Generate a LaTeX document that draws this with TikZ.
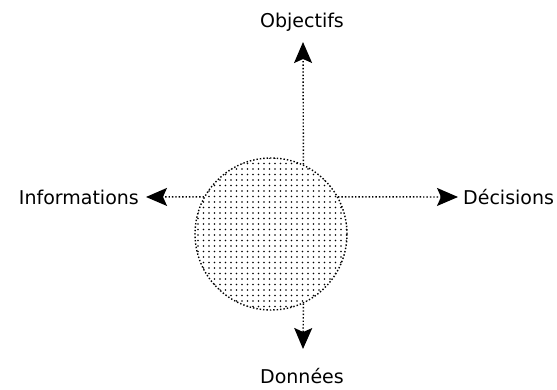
\documentclass[tikz,border=0pt]{standalone}
\usepackage{fontspec}
\setmainfont{DejaVu Sans}
\usetikzlibrary{arrows.meta,patterns.meta}
\tikzset{
    lbl/.style={font=\fontsize{19}{23}\selectfont, inner sep=0pt, text height=14pt, text depth=0pt},
    dots/.style={line width=1.4pt, dash pattern=on 1.4pt off 2pt},
    flow/.style={dots, -{Stealth[length=21pt,width=18pt,inset=4pt]}},
}
\begin{document}
\begin{tikzpicture}[x=1pt,y=-1pt]
    \useasboundingbox (0,0) rectangle (557,389);

    \node[circle, minimum size=152pt, inner sep=0pt, draw, dots,
          pattern={Dots[distance=5.5pt,radius=0.8pt]}] (blob) at (271,234) {};

    \coordinate (objtip) at (303,42);
    \coordinate (dectip) at (458,197);
    \coordinate (inftip) at (146,197);
    \coordinate (dontip) at (303,349);

    \node[lbl] (obj) at (302,20) {Objectifs};
    \node[lbl, anchor=west] (dec) at (463,197) {Décisions};
    \node[lbl, anchor=east] (inf) at (139,197) {Informations};
    \node[lbl] (don) at (302,376) {Données};

    \path[flow] (blob.65) edge (objtip);
    \path[flow] (blob.29) edge (dectip);
    \path[flow] (blob.151) edge (inftip);
    \path[flow] (blob.-65) edge (dontip);
\end{tikzpicture}
\end{document}
